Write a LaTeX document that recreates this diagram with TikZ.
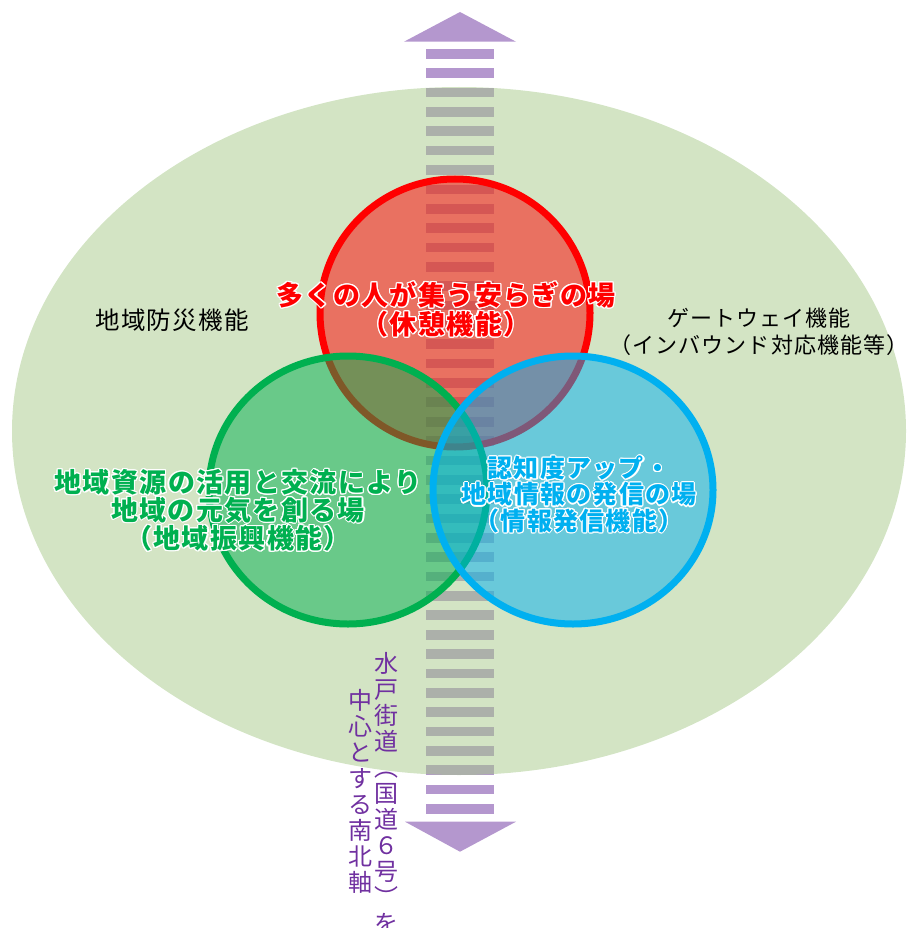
\documentclass[tikz,border=0pt]{standalone}
\usepackage{fontspec}
\setmainfont{Noto Sans CJK JP}
\newfontfamily\jpsp[LetterSpace=5]{Noto Sans CJK JP}
\usepackage{contour}
\contourlength{1.1pt}
\definecolor{bgl}{HTML}{D3E4C4}
\definecolor{pst}{HTML}{B497CE}
\definecolor{gst}{HTML}{ACB0AA}
\definecolor{cred}{HTML}{FF0000}
\definecolor{cgrn}{HTML}{00B050}
\definecolor{cblu}{HTML}{00B0F0}
\definecolor{vio}{HTML}{7030A0}
\begin{document}
\begin{tikzpicture}[x=1pt,y=-1pt,
  venn/.style={line width=7pt, fill opacity=0.5},
  lbl/.style={align=center, inner sep=0pt},
  stripe/.style={fill=#1},
  tri/.style={fill=pst}]
\useasboundingbox (0,0) rectangle (906,928);
% background region
\fill[bgl] (459,431) ellipse [x radius=447pt, y radius=344pt];
% north-south axis stripes
\foreach \k in {0,...,39}
  \fill[stripe=pst] (426,49+\k*19.36) rectangle ++(68,9.7);
\begin{scope}
  \clip (459,431) ellipse [x radius=447pt, y radius=344pt];
  \foreach \k in {0,...,39}
    \fill[stripe=gst] (426,49+\k*19.36) rectangle ++(68,9.7);
\end{scope}
% arrow heads
\fill[tri] (404,41.7) -- (460,12) -- (516,41.7) -- cycle;
\fill[tri] (405,821.7) -- (460,851.7) -- (516,821.7) -- cycle;
% three circles
\draw[venn, draw=cred, fill=cred] (455,313) ellipse [x radius=135pt, y radius=134pt];
\draw[venn, draw=cgrn, fill=cgrn] (348,490) ellipse [x radius=139pt, y radius=134pt];
\draw[venn, draw=cblu, fill=cblu] (573,490) ellipse [x radius=140pt, y radius=134pt];
% labels
\node[lbl, text=cred, font=\jpsp\fontsize{27}{29}\selectfont\bfseries] (rest) at (446,310)
  {\contour{white}{多くの人が集う安らぎの場}\\\contour{white}{（休憩機能）}};
\node[lbl, text=cgrn, font=\jpsp\fontsize{27}{27.5}\selectfont\bfseries] (local) at (238,511)
  {\contour{white}{地域資源の活用と交流により}\\\contour{white}{地域の元気を創る場}\\\contour{white}{（地域振興機能）}};
\node[lbl, text=cblu, font=\jpsp\fontsize{25}{25}\selectfont\bfseries] (info) at (579,495)
  {\contour{white}{認知度アップ・}\\\contour{white}{地域情報の発信の場}\\\contour{white}{（情報発信機能）}};
\node[lbl, text=black, font=\jpsp\fontsize{24.5}{26}\selectfont] (disaster) at (172,320) {地域防災機能};
\node[lbl, text=black, font=\jpsp\fontsize{22}{27}\selectfont] (gate) at (759,331.5)
  {ゲートウェイ機能\\（インバウンド対応機能等）};
\node[lbl, text=vio, font=\fontsize{24}{26}\selectfont] (axis1) at (386,793)
  {水\\戸\\街\\道\\︵\\国\\道\\６\\号\\︶\\を};
\node[lbl, text=vio, font=\fontsize{24}{26}\selectfont] (axis2) at (360,791)
  {中\\心\\と\\す\\る\\南\\北\\軸};
\end{tikzpicture}
\end{document}
